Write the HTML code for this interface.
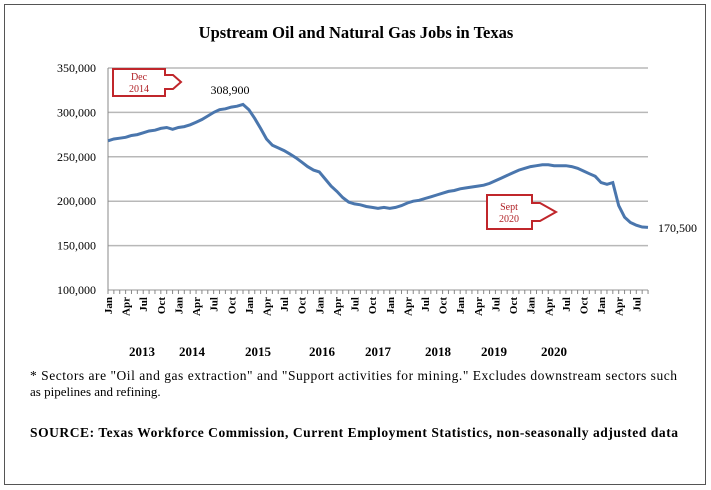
<!DOCTYPE html>
<html><head><meta charset="utf-8">
<style>
body{margin:0;background:#fff;}
svg{display:block;font-family:"Liberation Serif",serif;}
</style></head>
<body>
<svg width="711" height="490">
<rect x="4.5" y="4.5" width="701" height="480" fill="#fff" stroke="#555"/>
<text x="356" y="38" text-anchor="middle" font-weight="bold" font-size="16.5">Upstream Oil and Natural Gas Jobs in Texas</text>
<g id="grid"></g>
<g id="axes"></g>
<path id="line" fill="none" stroke="#4a76ad" stroke-width="3"/>
<g>
<polygon points="113,69 165,69 165,75 173,75 181,82 173,89 165,89 165,96 113,96" fill="#fff" stroke="#c0262b" stroke-width="2"/>
<text x="139" y="80" text-anchor="middle" font-size="10" fill="#b02025">Dec</text>
<text x="139" y="92" text-anchor="middle" font-size="10" fill="#b02025">2014</text>
</g>
<text x="230" y="94" text-anchor="middle" font-size="12">308,900</text>
<g>
<polygon points="487,195 532,195 532,203 540,203 556,212 540,221 532,221 532,229 487,229" fill="#fff" stroke="#c0262b" stroke-width="2"/>
<text x="509" y="210" text-anchor="middle" font-size="10" fill="#b02025">Sept</text>
<text x="509" y="222" text-anchor="middle" font-size="10" fill="#b02025">2020</text>
</g>
<text x="658" y="232" font-size="12">170,500</text>
<g id="years"></g>
<text x="30" y="380" font-size="13.5" textLength="647" lengthAdjust="spacing">* Sectors are "Oil and gas extraction" and "Support activities for mining."   Excludes downstream sectors such</text>
<text x="30" y="396" font-size="13">as pipelines and refining.</text>
<text x="30" y="437" font-size="13.5" font-weight="bold" textLength="648" lengthAdjust="spacing">SOURCE: Texas Workforce Commission, Current Employment Statistics, non-seasonally adjusted data</text>
</svg>
<script>
const yTicks=[100000,150000,200000,250000,300000,350000];
const yearLabels=["2013","2014","2015","2016","2017","2018","2019","2020"];
const monthNames=["Jan","Apr","Jul","Oct"];
const jobs=[
268,270,271,272,274,275,277,279,280,282,283,281,
283,284,286,289,292,296,300,303,304,306,307,309,
303,293,282,270,263,260,257,253,249,244,239,235,
233,225,217,211,204,199,197,196,194,193,192,193,
192,193,195,198,200,201,203,205,207,209,211,212,
214,215,216,217,218,220,223,226,229,232,235,237,
239,240,241,241,240,240,240,239,237,234,231,228,
221,219,221,195,182,176,173,171,170.5];
const NS="http://www.w3.org/2000/svg";
const x0=108,pxm=5.87,yB=290,yT=68;
const X=i=>x0+i*pxm;
const Y=v=>yB-(v-100000)/(250000)*(yB-yT);
function mk(t,a,p){const e=document.createElementNS(NS,t);for(const k in a)e.setAttribute(k,a[k]);p.appendChild(e);return e;}
const grid=document.getElementById('grid'),axes=document.getElementById('axes');
yTicks.forEach(v=>{
 const l=mk('line',{x1:x0,x2:648,y1:Y(v),y2:Y(v),stroke:'#b8b8b8','stroke-width':1.5},grid);
 
 
 const t=mk('text',{x:96,y:Y(v)+4,'text-anchor':'end','font-size':12},axes);
 t.textContent=v.toLocaleString('en-US');
 
 
});
const ya=mk('line',{x1:x0,x2:x0,y1:yT,y2:yB,stroke:'#888'},axes);


for(let i=0;i<jobs.length;i++){
 const tk=mk('line',{x1:X(i),x2:X(i),y1:yB,y2:yB+4,stroke:'#888'},axes);
 
 
 if(i%3===0){
  const t=mk('text',{x:0,y:0,'font-size':11,'font-weight':'bold','text-anchor':'end',transform:`translate(${X(i)+4},${yB+7}) rotate(-90)`},axes);
  t.textContent=monthNames[(i/3)%4];
  
  
 }
}
const yearX=[142,192,258,322,378,438,494,554];
const yg=document.getElementById('years');
yearLabels.forEach((y,i)=>{
 const t=mk('text',{x:yearX[i],y:356,'text-anchor':'middle','font-size':13,'font-weight':'bold'},yg);
 t.textContent=y;
 
 
});
document.getElementById('line').setAttribute('d',jobs.map((v,i)=>(i?'L':'M')+X(i).toFixed(1)+','+Y(v*1000).toFixed(1)).join(''));
</script>
</body></html>
